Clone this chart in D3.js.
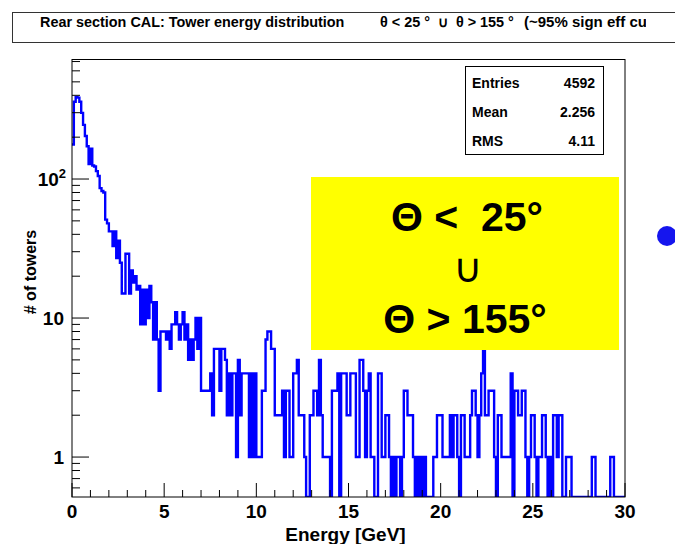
<!DOCTYPE html>
<html>
<head>
<meta charset="utf-8">
<script src="https://cdn.jsdelivr.net/npm/d3@7"></script>
<style>
  html, body { margin: 0; padding: 0; background: #fff; }
  svg { display: block; font-family: "Liberation Sans", Arial, Helvetica, sans-serif; }
</style>
</head>
<body>
<svg id="chart" width="675" height="544"></svg>
<script>
// ---------------- data ----------------
const titleLeft = "Rear section CAL: Tower energy distribution";
const titleMid = "\u03b8 < 25 \u00b0  \u222a  \u03b8 > 155 \u00b0";
const titleRight = "(~95% sign eff cut)";
const xLabel = "Energy [GeV]";
const yLabel = "# of towers";
const xDomain = [0, 30];
const binWidth = 0.1;
const yDomain = [0.516, 724];
const xTickValues = [0, 5, 10, 15, 20, 25, 30];
const xTickLabels = ["0", "5", "10", "15", "20", "25", "30"];
const yTickValues = [1, 10, 100];
const statsLabels = ["Entries", "Mean", "RMS"];
const statsValues = ["4592", "2.256", "4.11"];
const boxLines = ["\u0398 <  25\u00b0", "\u222a", "\u0398 > 155\u00b0"];
const binValues = [
  177, 360, 387, 385, 360, 299, 245, 204, 172, 128,
  165, 125, 123, 114, 105, 86, 82, 80, 51, 48,
  42, 42, 33, 42, 27, 36, 25, 15, 15, 29,
  29, 15, 22, 18, 20, 16, 17, 9, 16, 9,
  16, 10, 17, 13, 7, 13, 7, 3, 8, 8,
  8, 7, 8, 6, 9, 9, 11, 9, 7, 9,
  11, 7, 9, 5, 7, 5, 7, 10, 6, 10,
  3, 3, 3, 3, 3, 4, 2, 6, 6, 6,
  3, 6, 6, 5, 2, 4, 2, 4, 4, 1,
  5, 2, 4, 4, 4, 4, 1, 4, 1, 4,
  1, 1, 1, 3, 3, 7, 8, 8, 6, 6,
  2, 2, 2, 2, 3, 1, 3, 3, 1, 1,
  4, 4, 5, 2, 2, 2, 1, 0, 0, 2,
  2, 3, 3, 2, 5, 2, 1, 1, 1, 1,
  0, 3, 3, 3, 4, 0, 4, 4, 4, 2,
  2, 4, 4, 4, 1, 1, 5, 5, 3, 1,
  3, 4, 1, 1, 0, 0, 4, 4, 1, 1,
  2, 2, 1, 0, 1, 0, 1, 1, 0, 1,
  3, 3, 2, 2, 2, 1, 0, 1, 0, 1,
  0, 1, 0, 0, 0, 0, 1, 1, 2, 2,
  2, 1, 1, 1, 1, 2, 1, 2, 2, 1,
  0, 2, 2, 1, 1, 1, 2, 3, 3, 2,
  1, 2, 4, 7, 2, 2, 3, 3, 3, 1,
  0, 2, 2, 1, 1, 1, 1, 1, 4, 0,
  3, 3, 2, 2, 3, 3, 1, 0, 1, 2,
  2, 1, 0, 1, 1, 2, 2, 1, 0, 1,
  0, 2, 2, 1, 2, 2, 0, 0, 1, 1,
  1, 0, 0, 0, 0, 0, 0, 0, 0, 0,
  0, 0, 1, 1, 0, 0, 0, 0, 0, 0,
  0, 0, 1, 1, 0, 0, 0, 0, 0, 0
];

// ---------------- layout ----------------
const svg = d3.select("#chart");
const frame = { left: 72, right: 625, top: 59.5, bottom: 497 };
const x = d3.scaleLinear().domain(xDomain).range([frame.left, frame.right]);
const y = d3.scaleLog().domain(yDomain).range([frame.bottom, frame.top]);

// title box
const defs = svg.append("defs");
defs.append("clipPath").attr("id", "titleClip")
  .append("rect").attr("x", 0).attr("y", 0).attr("width", 646).attr("height", 60);
svg.append("rect").attr("x", 12.5).attr("y", 12.5).attr("width", 700).attr("height", 30)
  .attr("fill", "#fff").attr("stroke", "#333").attr("stroke-width", 1);
const tg = svg.append("g").attr("clip-path", "url(#titleClip)")
  .attr("font-weight", "bold").attr("dominant-baseline", "middle");
tg.append("text").attr("x", 40).attr("y", 23).attr("font-size", 14.4).text(titleLeft);
tg.append("text").attr("x", 380).attr("y", 23).attr("font-size", 14.4)
  .style("white-space", "pre").text(titleMid);
tg.append("text").attr("x", 524).attr("y", 23).attr("font-size", 15).text(titleRight);

// plot clip
defs.append("clipPath").attr("id", "plotClip")
  .append("rect").attr("x", frame.left).attr("y", frame.top)
  .attr("width", frame.right - frame.left).attr("height", frame.bottom - frame.top);

// histogram
const pts = binValues.map((v, i) => [xDomain[0] + i * binWidth, Math.max(v, yDomain[0])]);
pts.push([xDomain[1], Math.max(binValues[binValues.length - 1], yDomain[0])]);
const line = d3.line().x(d => x(d[0])).y(d => y(d[1])).curve(d3.curveStepAfter);
svg.append("path").attr("d", line(pts)).attr("fill", "none")
  .attr("stroke", "#0000ff").attr("stroke-width", 2.4).attr("stroke-linejoin", "miter")
  .attr("clip-path", "url(#plotClip)");

// frame
svg.append("rect").attr("x", frame.left).attr("y", frame.top)
  .attr("width", frame.right - frame.left).attr("height", frame.bottom - frame.top)
  .attr("fill", "none").attr("stroke", "#000").attr("stroke-width", 1);

// x axis ticks
const xMinor = d3.range(xDomain[0], xDomain[1] + 0.001, 1);
svg.append("g").selectAll("line").data(xMinor).join("line")
  .attr("x1", d => x(d)).attr("x2", d => x(d))
  .attr("y1", frame.bottom).attr("y2", d => frame.bottom - (d % 5 === 0 ? 14 : 7))
  .attr("stroke", "#000").attr("stroke-width", 1);
svg.append("g").selectAll("text").data(xTickValues).join("text")
  .attr("x", d => x(d)).attr("y", 518).attr("text-anchor", "middle")
  .attr("font-size", 19).attr("font-weight", "bold")
  .text((d, i) => xTickLabels[i]);
svg.append("text").attr("x", (frame.left + frame.right) / 2 - 3).attr("y", 541)
  .attr("text-anchor", "middle").attr("font-size", 19).attr("font-weight", "bold").text(xLabel);

// y axis ticks (log)
const yMinor = [];
[0.1, 1, 10, 100].forEach(dec => { for (let k = 1; k <= 9; k++) { const v = dec * k; if (v >= yDomain[0] && v <= yDomain[1]) yMinor.push(v); } });
svg.append("g").selectAll("line").data(yMinor).join("line")
  .attr("x1", frame.left).attr("x2", d => frame.left + (yTickValues.includes(Math.round(d * 1000) / 1000) ? 17 : 8))
  .attr("y1", d => y(d)).attr("y2", d => y(d))
  .attr("stroke", "#000").attr("stroke-width", 1);
const yl = svg.append("g").attr("font-size", 19).attr("font-weight", "bold");
yl.append("text").attr("x", 64).attr("y", y(1) + 7).attr("text-anchor", "end").text("1");
yl.append("text").attr("x", 64).attr("y", y(10) + 7).attr("text-anchor", "end").text("10");
const t100 = yl.append("text").attr("x", 66).attr("y", y(100) + 7).attr("text-anchor", "end");
t100.append("tspan").text("10");
t100.append("tspan").attr("dy", -8).attr("font-size", 13).text("2");
svg.append("text").attr("transform", "translate(36,272) rotate(-90)")
  .attr("text-anchor", "middle").attr("font-size", 16).attr("font-weight", "bold").text(yLabel);

// stats box
svg.append("rect").attr("x", 465.5).attr("y", 66.5).attr("width", 138).attr("height", 88)
  .attr("fill", "#fff").attr("stroke", "#000").attr("stroke-width", 1);
statsLabels.forEach((s, i) => {
  svg.append("text").attr("x", 472).attr("y", 88 + i * 29)
    .attr("font-size", 14).attr("font-weight", "bold").text(s);
  svg.append("text").attr("x", 595).attr("y", 88 + i * 29).attr("text-anchor", "end")
    .attr("font-size", 14).attr("font-weight", "bold").text(statsValues[i]);
});

// yellow annotation box
svg.append("rect").attr("x", 311).attr("y", 177).attr("width", 308).attr("height", 173)
  .attr("fill", "#ffff00");
svg.append("text").attr("x", 467).attr("y", 231).attr("text-anchor", "middle")
  .attr("font-size", 41).attr("font-weight", "bold")
  .style("white-space", "pre").text(boxLines[0]);
svg.append("text").attr("x", 468).attr("y", 282).attr("text-anchor", "middle")
  .attr("font-family", "'DejaVu Sans', sans-serif")
  .attr("font-size", 40).text(boxLines[1]);
svg.append("text").attr("x", 465).attr("y", 333).attr("text-anchor", "middle")
  .attr("font-size", 41).attr("font-weight", "bold").text(boxLines[2]);

// bullet dot at right edge
svg.append("circle").attr("cx", 667).attr("cy", 236).attr("r", 10).attr("fill", "#1515ee");
</script>
</body>
</html>
